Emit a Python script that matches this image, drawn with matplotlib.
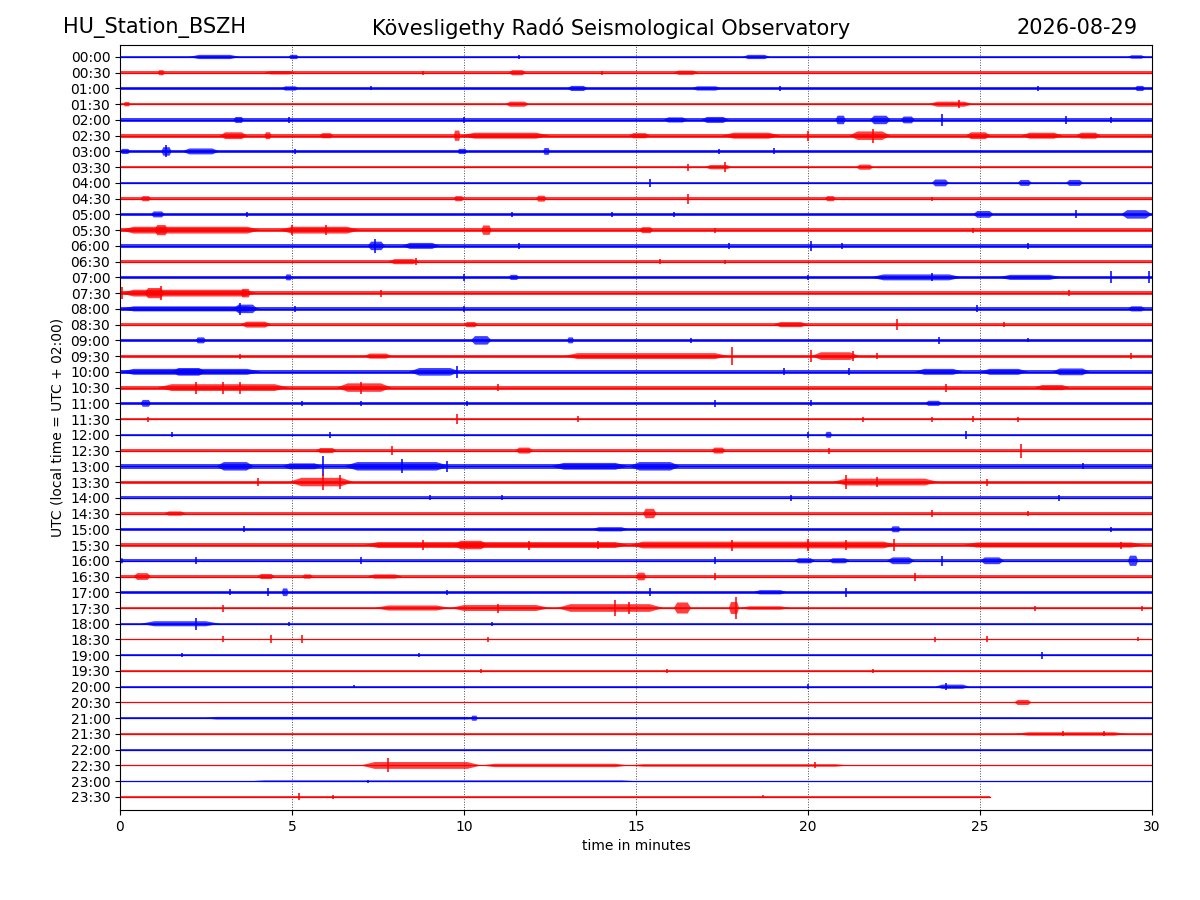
import matplotlib.pyplot as plt
import numpy as np

#------------ DATA ----------------------------
# One trace per half hour, alternating blue / red.
labels = ['00:00', '00:30', '01:00', '01:30', '02:00', '02:30', '03:00', '03:30',
          '04:00', '04:30', '05:00', '05:30', '06:00', '06:30', '07:00', '07:30',
          '08:00', '08:30', '09:00', '09:30', '10:00', '10:30', '11:00', '11:30',
          '12:00', '12:30', '13:00', '13:30', '14:00', '14:30', '15:00', '15:30',
          '16:00', '16:30', '17:00', '17:30', '18:00', '18:30', '19:00', '19:30',
          '20:00', '20:30', '21:00', '21:30', '22:00', '22:30', '23:00', '23:30']

# Background noise level of each trace (half amplitude, 1/16 of trace spacing).
noise = [1.2, 1.3, 1.5, 1.3, 1.8, 2.0, 1.5, 1.0, 0.9, 1.2, 1.3, 2.2,
         2.0, 1.3, 1.6, 2.0, 2.0, 1.5, 1.5, 1.5, 2.2, 2.0, 1.5, 1.2,
         1.2, 1.7, 2.2, 1.5, 1.4, 1.5, 1.4, 2.0, 1.7, 1.4, 1.3, 1.3,
         1.2, 0.9, 0.8, 0.7, 0.7, 0.7, 0.9, 0.6, 0.6, 0.7, 0.6, 0.6]

# Length of each trace in minutes (last one is still recording).
trace_end = [30] * 47 + [25.3]

# Bursts: (trace, start min, end min, half amplitude). start == end -> spike.
bursts = [
    (0, 2.0, 3.5, 2.5), (0, 4.9, 5.2, 2.5), (0, 11.6, 11.6, 2), (0, 18.1, 18.9, 2.5), (0, 29.3, 29.8, 2),
    (1, 1.1, 1.3, 3), (1, 4.2, 5.1, 2), (1, 8.8, 8.8, 2), (1, 11.3, 11.8, 3), (1, 14.0, 14.0, 2), (1, 16.1, 16.8, 2.5),
    (2, 4.7, 5.2, 2.5), (2, 7.3, 7.3, 2), (2, 13.0, 13.6, 3), (2, 16.6, 17.5, 2.5), (2, 19.2, 19.2, 2.5),
    (2, 26.7, 26.7, 2.5), (2, 29.5, 29.8, 3),
    (3, 0.1, 0.3, 2.5), (3, 11.2, 11.9, 3), (3, 23.5, 24.8, 3), (3, 24.4, 24.4, 4),
    (4, 3.3, 3.6, 3.5), (4, 4.9, 4.9, 3), (4, 10.0, 10.0, 3), (4, 15.8, 16.5, 3), (4, 16.9, 17.7, 3.5),
    (4, 20.8, 21.1, 5), (4, 21.8, 22.4, 5), (4, 22.7, 23.1, 4), (4, 23.9, 23.9, 6), (4, 27.5, 27.5, 4),
    (4, 28.8, 28.8, 3),
    (5, 2.9, 3.7, 4), (5, 4.2, 4.4, 4), (5, 5.8, 6.2, 3), (5, 9.7, 9.9, 6), (5, 9.9, 12.5, 3.5),
    (5, 14.8, 15.4, 3), (5, 17.5, 19.2, 3.5), (5, 20.0, 20.0, 5), (5, 21.2, 22.4, 5), (5, 21.9, 21.9, 7),
    (5, 24.6, 25.3, 4), (5, 26.2, 27.4, 3.5), (5, 27.8, 28.5, 3.5),
    (6, 0.0, 0.3, 3), (6, 1.2, 1.5, 5), (6, 1.35, 1.35, 6), (6, 1.8, 2.9, 3.5), (6, 5.1, 5.1, 2.5),
    (6, 9.8, 10.1, 3), (6, 12.3, 12.5, 4), (6, 17.4, 17.4, 2.5), (6, 19.0, 19.0, 3),
    (7, 17.0, 17.8, 2.5), (7, 17.6, 17.6, 5), (7, 16.5, 16.5, 3.5), (7, 21.4, 21.9, 3),
    (8, 15.4, 15.4, 4), (8, 23.6, 24.1, 4), (8, 26.1, 26.5, 3.5), (8, 27.5, 28.0, 3.5),
    (9, 0.6, 0.9, 3), (9, 9.7, 10.0, 3), (9, 12.1, 12.4, 3.5), (9, 16.5, 16.5, 5), (9, 20.5, 20.8, 3),
    (9, 23.6, 23.6, 2),
    (10, 0.9, 1.3, 3.5), (10, 3.7, 3.7, 2.5), (10, 11.4, 11.4, 2.5), (10, 14.3, 14.3, 2.5),
    (10, 16.1, 16.1, 2.5), (10, 24.8, 25.4, 4), (10, 27.8, 27.8, 4), (10, 29.1, 30.0, 5),
    (11, 0.0, 4.1, 4), (11, 1.0, 1.4, 6), (11, 4.6, 7.0, 4), (11, 5.0, 5.0, 5), (11, 6.0, 6.0, 5),
    (11, 10.5, 10.8, 5.5), (11, 15.1, 15.5, 3.5), (11, 17.3, 17.3, 2.5), (11, 24.8, 24.8, 2.5),
    (12, 7.2, 7.7, 5), (12, 7.4, 7.4, 7), (12, 8.2, 9.3, 3.5), (12, 11.6, 11.6, 3), (12, 17.7, 17.7, 3),
    (12, 20.1, 20.1, 5), (12, 21.0, 21.0, 3), (12, 26.4, 26.4, 3),
    (13, 7.8, 8.7, 3), (13, 8.6, 8.6, 3.5), (13, 15.7, 15.7, 2.5), (13, 17.6, 17.6, 2),
    (14, 4.8, 5.0, 3.5), (14, 10.0, 10.0, 3.5), (14, 11.3, 11.6, 3), (14, 20.0, 20.0, 2.5),
    (14, 21.8, 24.5, 3.5), (14, 23.6, 23.6, 4), (14, 25.5, 27.4, 3), (14, 28.8, 28.8, 6),
    (14, 29.9, 29.9, 6),
    (15, 0.0, 4.0, 4), (15, 0.05, 0.05, 6), (15, 0.7, 1.3, 6), (15, 1.2, 1.2, 7), (15, 3.5, 3.8, 5),
    (15, 7.6, 7.6, 3.5), (15, 27.6, 27.6, 3),
    (16, 0.0, 4.1, 3), (16, 3.3, 4.0, 5), (16, 3.5, 3.5, 6), (16, 5.1, 5.1, 3), (16, 10.0, 10.0, 3),
    (16, 24.9, 24.9, 3.5), (16, 29.3, 29.8, 3),
    (17, 3.5, 4.4, 3.5), (17, 10.0, 10.4, 3), (17, 19.0, 20.0, 3), (17, 22.6, 22.6, 5.5),
    (17, 25.7, 25.7, 2.5),
    (18, 2.2, 2.5, 3.5), (18, 10.2, 10.8, 5), (18, 13.0, 13.2, 3.5), (18, 16.6, 16.6, 2.5),
    (18, 23.8, 23.8, 3.5), (18, 26.4, 26.4, 2),
    (19, 3.5, 3.5, 2.5), (19, 7.1, 7.9, 3), (19, 12.9, 17.7, 3.5), (19, 17.8, 17.8, 9),
    (19, 20.1, 21.5, 4.5), (19, 20.1, 20.1, 6), (19, 21.3, 21.3, 5), (19, 22.0, 22.0, 3),
    (19, 29.4, 29.4, 3),
    (20, 0.0, 4.1, 3.5), (20, 1.5, 2.5, 4.5), (20, 8.4, 9.9, 4.5), (20, 9.8, 9.8, 6),
    (20, 19.3, 19.3, 3.5), (20, 21.2, 21.2, 3.5), (20, 23.1, 24.5, 3.5), (20, 25.0, 26.4, 3.5),
    (20, 27.1, 28.2, 4),
    (21, 1.1, 4.9, 4), (21, 2.2, 2.2, 6), (21, 3.0, 3.0, 6), (21, 3.5, 3.5, 6), (21, 6.3, 7.9, 5),
    (21, 7.0, 7.0, 6), (21, 11.0, 11.0, 3.5), (21, 24.0, 24.0, 4), (21, 26.6, 27.6, 3),
    (22, 0.6, 0.9, 4), (22, 5.3, 5.3, 2.5), (22, 7.0, 7.0, 2.5), (22, 10.1, 10.1, 2.5),
    (22, 17.3, 17.3, 3.5), (22, 20.1, 20.1, 3), (22, 23.4, 23.9, 3),
    (23, 0.8, 0.8, 2.5), (23, 9.8, 9.8, 5), (23, 13.3, 13.3, 3), (23, 21.6, 21.6, 2.5),
    (23, 23.6, 23.6, 2.5), (23, 24.8, 24.8, 3), (23, 26.1, 26.1, 2.5),
    (24, 1.5, 1.5, 2.5), (24, 6.1, 6.1, 3), (24, 20.0, 20.0, 3), (24, 20.5, 20.7, 3.5),
    (24, 24.6, 24.6, 4),
    (25, 5.7, 6.3, 3), (25, 7.9, 7.9, 4.5), (25, 11.5, 12.0, 3.5), (25, 17.2, 17.6, 3.5),
    (25, 20.6, 20.6, 3), (25, 26.2, 26.2, 7),
    (26, 2.8, 3.9, 5), (26, 4.7, 5.9, 3.5), (26, 5.9, 5.9, 10), (26, 6.5, 9.6, 5), (26, 8.2, 8.2, 7),
    (26, 9.5, 9.5, 5.5), (26, 12.5, 14.8, 4), (26, 14.8, 16.3, 5), (26, 28.0, 28.0, 3),
    (27, 4.0, 4.0, 4), (27, 4.9, 6.8, 5), (27, 5.9, 5.9, 8), (27, 6.4, 6.4, 7), (27, 20.7, 23.8, 4),
    (27, 21.1, 21.1, 7), (27, 22.0, 22.0, 5), (27, 25.2, 25.2, 3.5),
    (28, 9.0, 9.0, 2.5), (28, 11.1, 11.1, 2.5), (28, 19.5, 19.5, 3), (28, 27.3, 27.3, 3),
    (29, 1.3, 1.9, 2.5), (29, 15.2, 15.6, 5.5), (29, 23.6, 23.6, 3.5), (29, 26.4, 26.4, 2.5),
    (30, 3.6, 3.6, 3), (30, 13.7, 14.8, 2.5), (30, 22.4, 22.7, 3.5), (30, 28.8, 28.8, 2.5),
    (31, 7.1, 14.8, 3.5), (31, 8.8, 8.8, 5), (31, 9.7, 10.7, 5), (31, 11.9, 11.9, 4.5),
    (31, 13.9, 13.9, 4), (31, 14.8, 22.6, 4), (31, 17.8, 17.8, 5.5), (31, 20.0, 20.0, 6),
    (31, 21.1, 21.1, 5), (31, 22.5, 22.5, 6), (31, 24.5, 29.8, 3), (31, 29.1, 29.1, 3.5),
    (32, 0.0, 0.1, 3), (32, 2.2, 2.2, 3.5), (32, 7.0, 7.0, 3.5), (32, 17.3, 17.3, 3.5),
    (32, 19.6, 20.2, 3), (32, 20.6, 21.2, 3), (32, 22.3, 23.1, 4), (32, 23.9, 23.9, 5),
    (32, 25.0, 25.7, 4), (32, 29.3, 29.6, 6),
    (33, 0.4, 0.9, 4), (33, 4.0, 4.5, 3), (33, 5.3, 5.6, 2.5), (33, 7.2, 8.2, 2.5),
    (33, 15.0, 15.3, 4.5), (33, 17.3, 17.3, 3.5), (33, 23.1, 23.1, 4),
    (34, 3.2, 3.2, 3), (34, 4.3, 4.3, 4), (34, 4.7, 4.9, 4.5), (34, 9.5, 9.5, 2.5),
    (34, 15.4, 15.4, 4), (34, 18.4, 19.4, 2.5), (34, 21.1, 21.1, 4.5),
    (35, 3.0, 3.0, 3.5), (35, 7.4, 9.6, 3), (35, 9.6, 12.5, 3.5), (35, 11.0, 11.0, 4.5),
    (35, 12.7, 15.8, 4.5), (35, 14.4, 14.4, 8), (35, 14.8, 14.8, 6), (35, 16.1, 16.6, 6.5),
    (35, 17.7, 18.0, 7), (35, 17.9, 17.9, 11), (35, 18.0, 19.5, 2), (35, 26.6, 26.6, 2.5),
    (35, 29.7, 29.7, 2.5),
    (36, 0.6, 2.9, 3), (36, 2.2, 2.2, 6), (36, 4.9, 4.9, 2), (36, 10.8, 10.8, 2),
    (37, 3.0, 3.0, 3), (37, 4.4, 4.4, 4), (37, 5.3, 5.3, 4), (37, 10.7, 10.7, 2.5),
    (37, 23.7, 23.7, 2.5), (37, 25.2, 25.2, 3), (37, 29.6, 29.6, 2),
    (38, 1.8, 1.8, 2), (38, 8.7, 8.7, 2), (38, 26.8, 26.8, 3.5),
    (39, 10.5, 10.5, 2), (39, 15.9, 15.9, 2), (39, 21.9, 21.9, 2),
    (40, 6.8, 6.8, 1.5), (40, 20.0, 20.0, 2.5), (40, 23.7, 24.7, 2.5), (40, 24.0, 24.0, 3.5),
    (41, 26.0, 26.5, 3),
    (42, 2.4, 10.5, 1.5), (42, 10.2, 10.4, 3),
    (43, 26.0, 29.3, 2), (43, 27.4, 27.4, 2.5), (43, 28.6, 28.6, 2.5),
    (45, 7.0, 10.5, 4), (45, 7.8, 7.8, 7), (45, 10.5, 14.8, 2), (45, 14.8, 21.2, 1.5),
    (45, 20.2, 20.2, 3),
    (46, 3.8, 15.0, 1.0), (46, 7.2, 7.2, 1.5),
    (47, 5.2, 5.2, 3.5), (47, 6.2, 6.2, 2), (47, 18.7, 18.7, 1.5),
]

colors = ['#0000ff', '#ff0000']
scale = 1 / 15.75   # amplitude unit -> trace spacing

#------------ DRAW ----------------------------
fig = plt.figure(figsize=(12, 9), dpi=100)
ax = fig.add_axes([0.1, 0.1, 0.86, 0.85])

for i, lab in enumerate(labels):
    c = colors[i % 2]
    end = trace_end[i]
    n = noise[i] * scale
    ax.fill_between([0, end], i - n, i + n, color=c, lw=0, alpha=0.75)
    ax.plot([0, end], [i, i], color=c, lw=0.9)

for tr, t0, t1, a in bursts:
    c = colors[tr % 2]
    h = a * scale
    if t1 - t0 < 0.05:
        ax.vlines(t0, tr - h, tr + h, color=c, lw=1.1)
    else:
        # tapered envelope: rises over the first / falls over the last fifth
        w = min(0.2 * (t1 - t0), 0.4)
        xs = [t0, t0 + w, t1 - w, t1, t1 - w, t0 + w]
        ys = [tr, tr - h * 0.85, tr - h * 0.85, tr, tr + h * 0.85, tr + h * 0.85]
        ax.fill(xs, ys, color=c, lw=0, alpha=0.75)

# Axes
ax.set_xlim(0, 30)
ax.set_ylim(47.83, -0.76)
ax.set_xticks(np.arange(0, 31, 5))
ax.set_yticks(np.arange(len(labels)))
ax.set_yticklabels(labels)
ax.xaxis.grid(True, linestyle=':', color='0.3', lw=0.7)
ax.set_axisbelow(True)

ax.set_xlabel('time in minutes')
ax.set_ylabel('UTC (local time = UTC + 02:00)')

# Titles
fig.text(0.0525, 0.969, 'HU_Station_BSZH', fontsize=15, ha='left', va='center')
fig.text(0.509, 0.969, 'Kövesligethy Radó Seismological Observatory', fontsize=15,
         ha='center', va='center')
fig.text(0.948, 0.969, '2026-08-29', fontsize=15, ha='right', va='center')

plt.savefig('out.png', dpi=100)
